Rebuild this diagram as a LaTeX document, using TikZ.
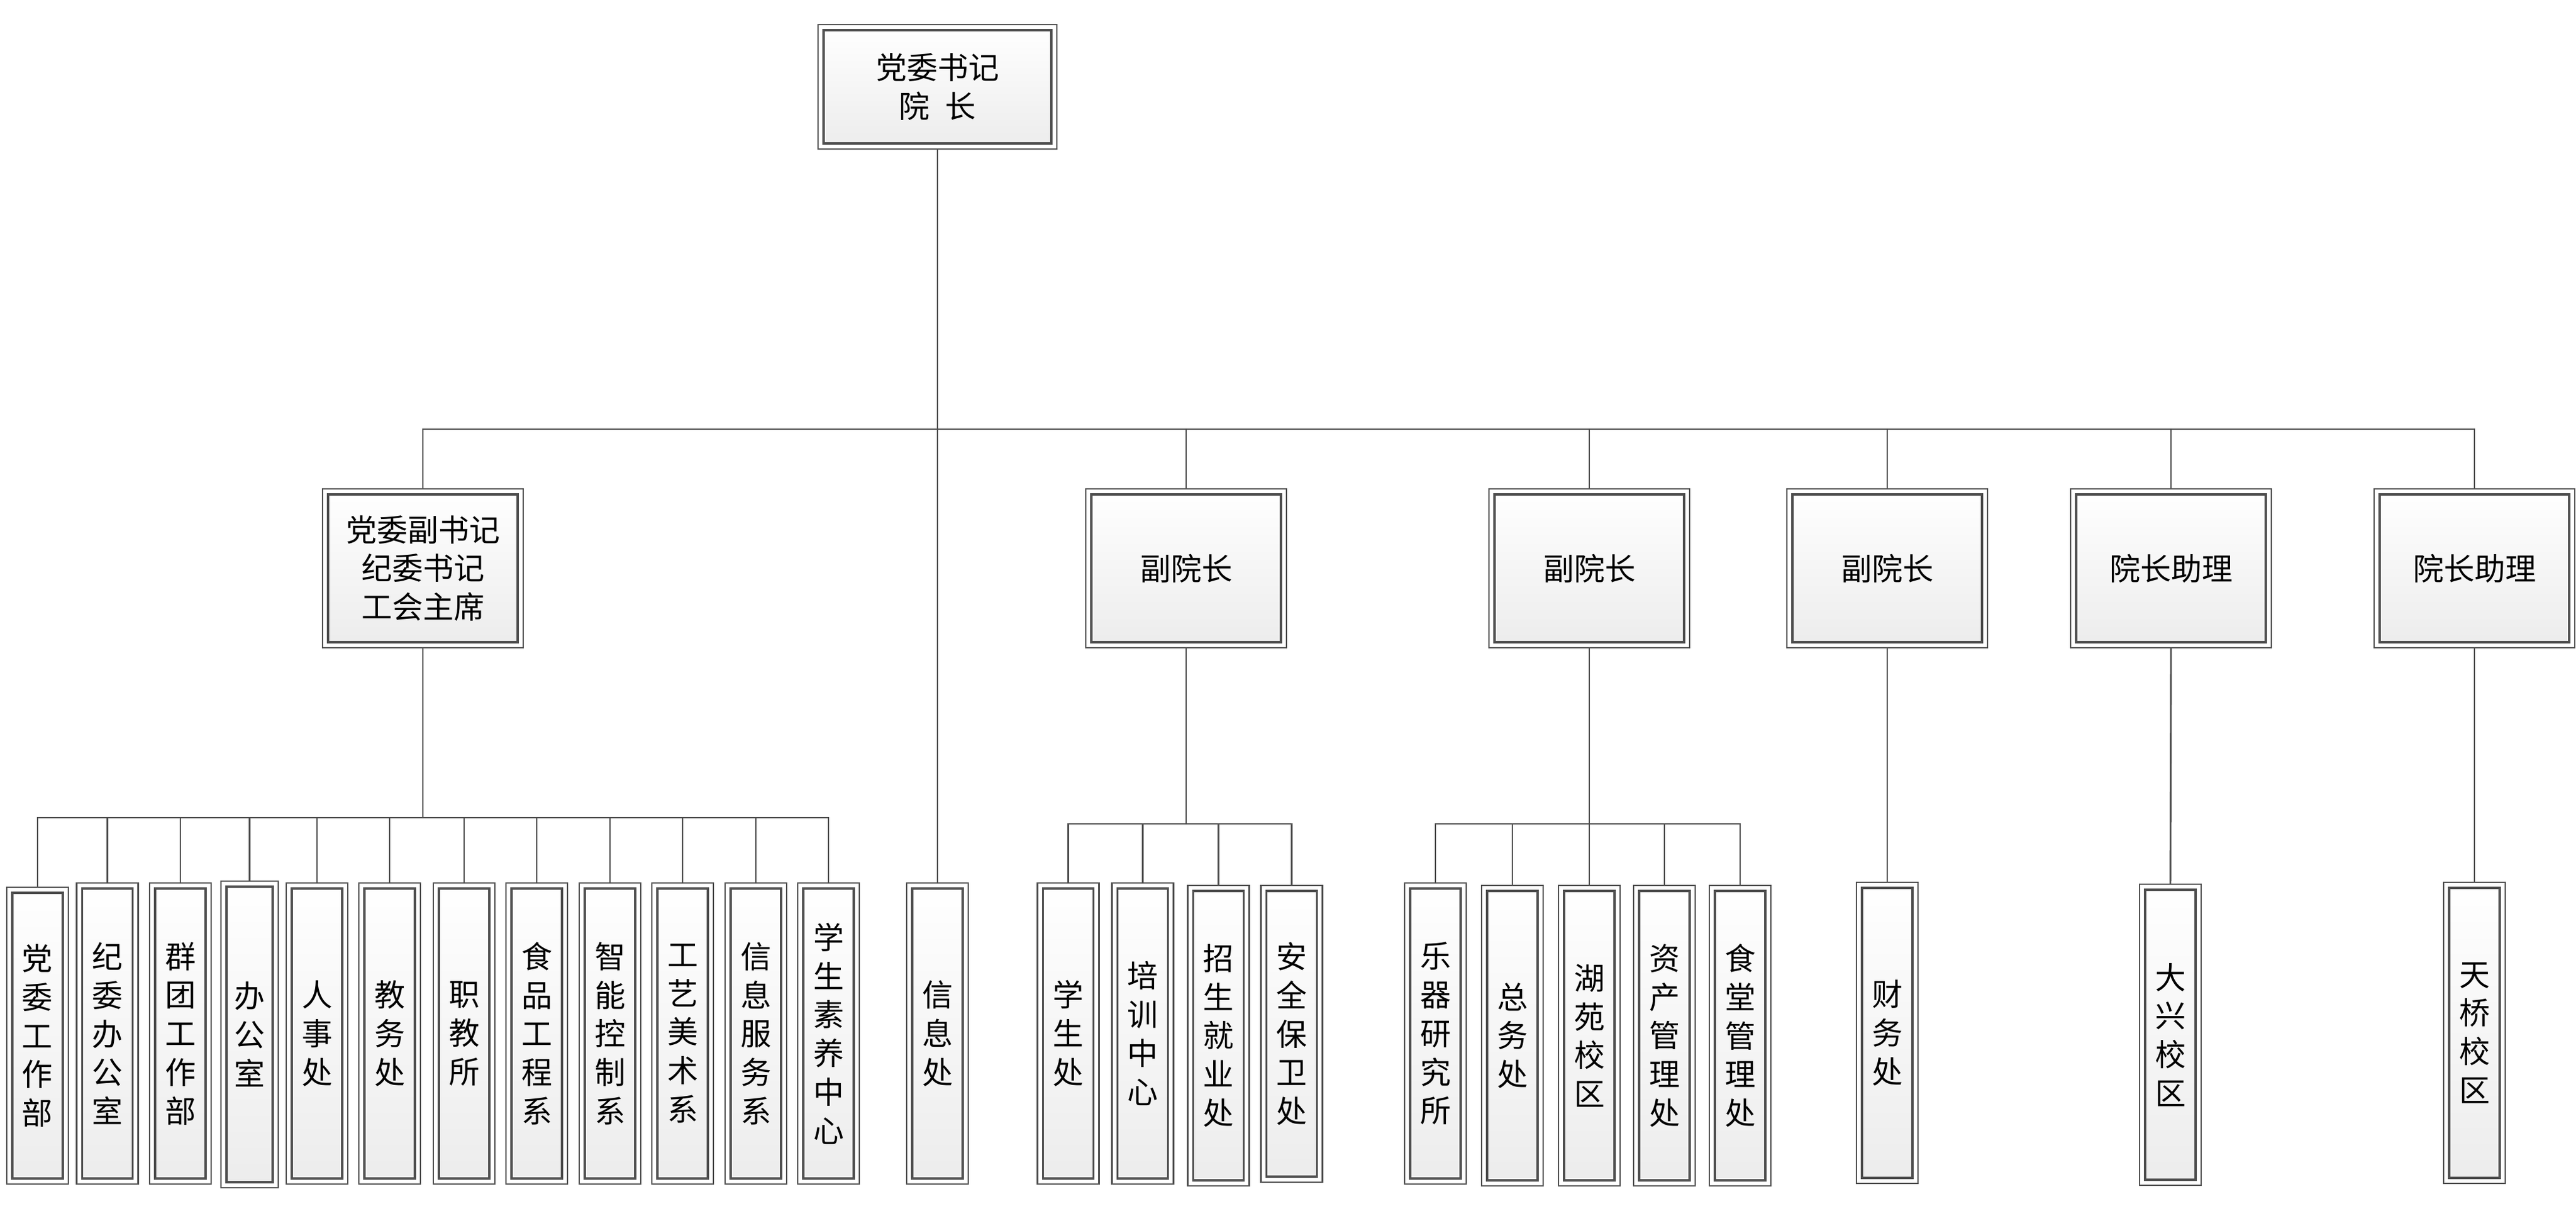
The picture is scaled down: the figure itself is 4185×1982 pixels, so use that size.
\documentclass[tikz,border=0pt]{standalone}
\usepackage{fontspec}
\setmainfont{Noto Sans CJK SC}
\definecolor{linec}{RGB}{78,78,78}
\definecolor{boxbot}{RGB}{236,236,236}
\tikzset{
  orgbox/.style={rectangle, draw=linec, line width=0.65pt, fill=white, inner sep=0pt,
    align=center, font=\fontsize{12.5}{15.7}\selectfont,
    path picture={\draw[draw=linec, line width=0.8pt, top color=white, bottom color=boxbot]
      ([xshift=2.25pt,yshift=-2.25pt]path picture bounding box.north west) rectangle
      ([xshift=-2.25pt,yshift=2.25pt]path picture bounding box.south east);}},
  topbox/.style={orgbox, minimum width=97pt, minimum height=50.5pt},
  midbox/.style={orgbox, minimum width=81.5pt, minimum height=64.5pt},
  colbox/.style={orgbox, minimum width=25pt, minimum height=122.25pt},
  conn/.style={draw=linec, line width=0.72pt, line cap=rect},
}
\begin{document}
\begin{tikzpicture}[x=0.25pt,y=-0.25pt]
\useasboundingbox (0,0) rectangle (4185,1982);

% top
\node[topbox] (top) at (1523,141) {党委书记\\院\hspace{0.5em}长};

% second row
\node[midbox] (A) at (687,923) {党委副书记\\纪委书记\\工会主席};
\node[midbox] (B) at (1927,923) {副院长};
\node[midbox] (C) at (2582,923) {副院长};
\node[midbox] (D) at (3066,923) {副院长};
\node[midbox] (E) at (3527,923) {院长助理};
\node[midbox] (F) at (4020,923) {院长助理};

% third row, group A
\node[colbox, minimum height=120.5pt] (a1) at (61,1682) {党\\委\\工\\作\\部};
\node[colbox] (a2) at (174.5,1678.5) {纪\\委\\办\\公\\室};
\node[colbox] (a3) at (293,1678.5) {群\\团\\工\\作\\部};
\node[colbox, minimum width=23.25pt, minimum height=124.5pt] (a4) at (405.5,1680) {办\\公\\室};
\node[colbox] (a5) at (515,1678.5) {人\\事\\处};
\node[colbox] (a6) at (633,1678.5) {教\\务\\处};
\node[colbox] (a7) at (754,1678.5) {职\\教\\所};
\node[colbox] (a8) at (872,1678.5) {食\\品\\工\\程\\系};
\node[colbox] (a9) at (991,1678.5) {智\\能\\控\\制\\系};
\node[colbox] (a10) at (1109,1678.5) {工\\艺\\美\\术\\系};
\node[colbox] (a11) at (1228,1678.5) {信\\息\\服\\务\\系};
\node[colbox] (a12) at (1346,1678.5) {学\\生\\素\\养\\中\\心};

% 信息处
\node[colbox] (xx) at (1523,1678.5) {信\\息\\处};

% group B
\node[colbox] (b1) at (1735.5,1678.5) {学\\生\\处};
\node[colbox] (b2) at (1856.5,1678.5) {培\\训\\中\\心};
\node[colbox, minimum height=122pt] (b3) at (1979.5,1682) {招\\生\\就\\业\\处};
\node[colbox, minimum height=120.5pt] (b4) at (2098.5,1679) {安\\全\\保\\卫\\处};

% group C
\node[colbox] (c1) at (2332,1678.5) {乐\\器\\研\\究\\所};
\node[colbox, minimum height=122pt] (c2) at (2457,1682) {总\\务\\处};
\node[colbox, minimum height=122pt] (c3) at (2582,1682) {湖\\苑\\校\\区};
\node[colbox, minimum height=122pt] (c4) at (2704,1682) {资\\产\\管\\理\\处};
\node[colbox, minimum height=122pt] (c5) at (2827,1682) {食\\堂\\管\\理\\处};

% singles
\node[colbox] (d1) at (3066,1677.5) {财\\务\\处};
\node[colbox] (e1) at (3526,1680.5) {大\\兴\\校\\区};
\node[colbox] (f1) at (4020,1677.5) {天\\桥\\校\\区};

% connectors: top level
\coordinate (bus) at (0,697);
\draw[conn] (top.south) -- (xx.north);
\draw[conn] (A.north |- bus) -- (F.north |- bus);
\foreach \n in {A,B,C,D,E,F} \draw[conn] (\n.north) -- (\n.north |- bus);

% group A
\coordinate (busA) at (0,1328);
\draw[conn] (A.south) -- (A.south |- busA);
\draw[conn] (a1.north |- busA) -- (a12.north |- busA);
\foreach \n in {a1,a2,a3,a4,a5,a6,a7,a8,a9,a10,a11,a12} \draw[conn] (\n.north) -- (\n.north |- busA);

% group B
\coordinate (busB) at (0,1338);
\draw[conn] (B.south) -- (B.south |- busB);
\draw[conn] (b1.north |- busB) -- (b4.north |- busB);
\foreach \n in {b1,b2,b3,b4} \draw[conn] (\n.north) -- (\n.north |- busB);

% group C
\draw[conn] (C.south) -- (C.south |- busB);
\draw[conn] (c1.north |- busB) -- (c5.north |- busB);
\foreach \n in {c1,c2,c3,c4,c5} \draw[conn] (\n.north) -- (\n.north |- busB);

% singles
\draw[conn] (D.south) -- (d1.north);
\draw[conn] (E.south) -- (e1.north);
\draw[conn] (F.south) -- (f1.north);
\end{tikzpicture}
\end{document}
